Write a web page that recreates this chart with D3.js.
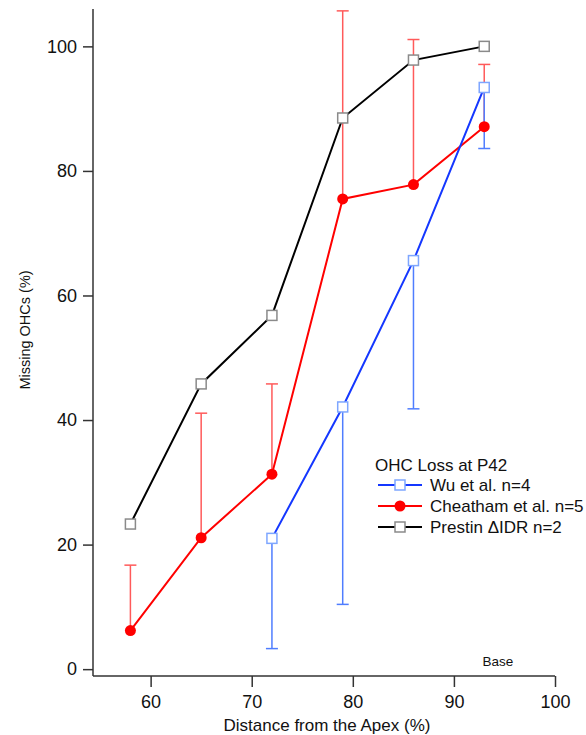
<!DOCTYPE html>
<html>
<head>
<meta charset="utf-8">
<script src="https://cdn.jsdelivr.net/npm/d3@7"></script>
<style>
  body { margin: 0; background: #fff; }
  svg text { font-family: "Liberation Sans", Arial, sans-serif; fill: #111; }
</style>
</head>
<body>
<div id="chart"></div>
<script>
// Data
const positions = [58, 65, 72, 79, 86, 93];

const prestinValues = [23.3, 45.8, 56.8, 88.5, 97.8, 100];

const cheathamValues = [6.2, 21.1, 31.3, 75.5, 77.8, 87.1];
const cheathamUpper = [16.7, 41.1, 45.8, 105.7, 101.1, 97.1];

const wuPositions = [72, 79, 86, 93];
const wuValues = [21.0, 42.1, 65.6, 93.4];
const wuLower = [3.3, 10.4, 41.8, 83.6];

const xTicks = [60, 70, 80, 90, 100];
const yTicks = [0, 20, 40, 60, 80, 100];

const legendItems = [
    { label: "Wu et al. n=4", key: "wu" },
    { label: "Cheatham et al. n=5", key: "cheatham" },
    { label: "Prestin \u0394IDR n=2", key: "prestin" }
];

// colours
const colors = {
    wu: { line: "#1437ff", bar: "#4f7dff", stroke: "#7ea6ff" },
    cheatham: { line: "#ff0000", bar: "#ff5a5a", stroke: "#ff0000" },
    prestin: { line: "#000000", bar: "#000000", stroke: "#8a8a8a" }
};

const width = 586, height = 735;

const svg = d3.select("#chart")
    .append("svg")
    .attr("width", width)
    .attr("height", height);

// scales
const x = d3.scaleLinear().domain([54.3, 100]).range([93, 555]);
const y = d3.scaleLinear().domain([-1.1, 106]).range([676, 9]);

// Y axis
const yAxis = svg.append("g")
    .attr("transform", `translate(${x(54.3)},0)`)
    .call(d3.axisLeft(y).tickValues(yTicks).tickSize(10).tickPadding(6).tickSizeOuter(0));
yAxis.select(".domain").remove();
yAxis.append("line")
    .attr("y1", y(106)).attr("y2", y(-1.1))
    .attr("stroke", "#333").attr("stroke-width", 1.5);
yAxis.selectAll(".tick line").attr("stroke", "#333").attr("stroke-width", 1.5);
yAxis.selectAll(".tick text")
    .style("font-size", "18px")
    .style("font-family", "'Liberation Sans', Arial, sans-serif")
    .attr("fill", "#111");

// X axis
const xAxis = svg.append("g")
    .attr("transform", `translate(0,${y(-1.1)})`)
    .call(d3.axisBottom(x).tickValues(xTicks).tickSize(11).tickPadding(8).tickSizeOuter(0));
xAxis.select(".domain").remove();
xAxis.append("line")
    .attr("x1", x(54.3)).attr("x2", x(100))
    .attr("stroke", "#333").attr("stroke-width", 1.5);
xAxis.selectAll(".tick line").attr("stroke", "#333").attr("stroke-width", 1.5);
xAxis.selectAll(".tick text")
    .style("font-size", "18px")
    .style("font-family", "'Liberation Sans', Arial, sans-serif")
    .attr("fill", "#111");

// axis titles
svg.append("text")
    .attr("x", 327)
    .attr("y", 731)
    .attr("text-anchor", "middle")
    .style("font-size", "17px")
    .text("Distance from the Apex (%)");

svg.append("text")
    .attr("transform", `translate(30,330) rotate(-90)`)
    .attr("text-anchor", "middle")
    .style("font-size", "14.5px")
    .text("Missing OHCs (%)");

svg.append("text")
    .attr("x", 498)
    .attr("y", 666)
    .attr("text-anchor", "middle")
    .style("font-size", "13.5px")
    .text("Base");

const capW = 6;

// Error bars (red: upper only)
const redBars = svg.append("g");
positions.forEach((p, i) => {
    redBars.append("line")
        .attr("x1", x(p)).attr("x2", x(p))
        .attr("y1", y(cheathamValues[i])).attr("y2", y(cheathamUpper[i]))
        .attr("stroke", colors.cheatham.bar).attr("stroke-width", 1.5);
    redBars.append("line")
        .attr("x1", x(p) - capW).attr("x2", x(p) + capW)
        .attr("y1", y(cheathamUpper[i])).attr("y2", y(cheathamUpper[i]))
        .attr("stroke", colors.cheatham.bar).attr("stroke-width", 1.5);
});

// Error bars (blue: lower only)
const blueBars = svg.append("g");
wuPositions.forEach((p, i) => {
    blueBars.append("line")
        .attr("x1", x(p)).attr("x2", x(p))
        .attr("y1", y(wuValues[i])).attr("y2", y(wuLower[i]))
        .attr("stroke", colors.wu.bar).attr("stroke-width", 1.5);
    blueBars.append("line")
        .attr("x1", x(p) - capW).attr("x2", x(p) + capW)
        .attr("y1", y(wuLower[i])).attr("y2", y(wuLower[i]))
        .attr("stroke", colors.wu.bar).attr("stroke-width", 1.5);
});

const line = d3.line().x(d => x(d[0])).y(d => y(d[1]));

const prestinData = positions.map((p, i) => [p, prestinValues[i]]);
const cheathamData = positions.map((p, i) => [p, cheathamValues[i]]);
const wuData = wuPositions.map((p, i) => [p, wuValues[i]]);

// lines
svg.append("path").datum(prestinData)
    .attr("d", line).attr("fill", "none")
    .attr("stroke", colors.prestin.line).attr("stroke-width", 2);
svg.append("path").datum(cheathamData)
    .attr("d", line).attr("fill", "none")
    .attr("stroke", colors.cheatham.line).attr("stroke-width", 2);
svg.append("path").datum(wuData)
    .attr("d", line).attr("fill", "none")
    .attr("stroke", colors.wu.line).attr("stroke-width", 2);

// markers
const sq = 10;
svg.selectAll(".sq-prestin")
    .data(prestinData)
    .enter()
    .append("rect")
    .attr("x", d => x(d[0]) - sq / 2)
    .attr("y", d => y(d[1]) - sq / 2)
    .attr("width", sq).attr("height", sq)
    .attr("fill", "#fff")
    .attr("stroke", colors.prestin.stroke).attr("stroke-width", 1.5);

svg.selectAll(".dot-cheatham")
    .data(cheathamData)
    .enter()
    .append("circle")
    .attr("cx", d => x(d[0]))
    .attr("cy", d => y(d[1]))
    .attr("r", 5.5)
    .attr("fill", colors.cheatham.line);

svg.selectAll(".sq-wu")
    .data(wuData)
    .enter()
    .append("rect")
    .attr("x", d => x(d[0]) - sq / 2)
    .attr("y", d => y(d[1]) - sq / 2)
    .attr("width", sq).attr("height", sq)
    .attr("fill", "#fff")
    .attr("stroke", colors.wu.stroke).attr("stroke-width", 1.5);

// Legend
const legend = svg.append("g").attr("transform", "translate(375,0)");
legend.append("text")
    .attr("x", 0).attr("y", 471)
    .style("font-size", "17px")
    .text("OHC Loss at P42");

legendItems.forEach((item, i) => {
    const ly = 485 + i * 21;
    const c = colors[item.key];
    legend.append("line")
        .attr("x1", 3).attr("x2", 47)
        .attr("y1", ly).attr("y2", ly)
        .attr("stroke", c.line).attr("stroke-width", 2);
    if (item.key === "cheatham") {
        legend.append("circle")
            .attr("cx", 25).attr("cy", ly).attr("r", 5.5)
            .attr("fill", c.line);
    } else {
        legend.append("rect")
            .attr("x", 25 - sq / 2).attr("y", ly - sq / 2)
            .attr("width", sq).attr("height", sq)
            .attr("fill", "#fff")
            .attr("stroke", c.stroke).attr("stroke-width", 1.5);
    }
    legend.append("text")
        .attr("x", 55).attr("y", ly + 6)
        .style("font-size", "17px")
        .text(item.label);
});
</script>
</body>
</html>
